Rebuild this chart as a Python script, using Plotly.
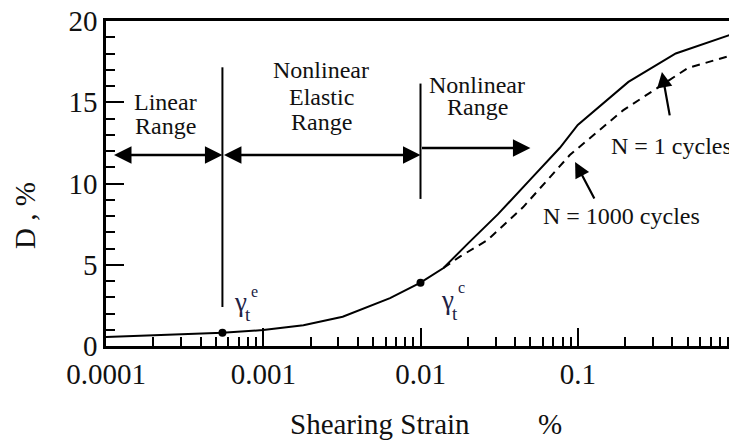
import math
import plotly.graph_objects as go

# ---------------- data ----------------
strain_n1 = [1e-4, 2e-4, 5.5e-4, 1e-3, 1.8e-3, 3.2e-3, 6.4e-3, 0.01, 0.014, 0.02,
             0.031, 0.05, 0.077, 0.1, 0.21, 0.42, 1.0]
damping_n1 = [0.55, 0.65, 0.82, 0.98, 1.28, 1.8, 2.95, 3.9, 4.8, 6.3,
              8.1, 10.25, 12.2, 13.6, 16.25, 18.0, 19.25]

strain_n1000 = [0.014, 0.0178, 0.0265, 0.045, 0.089, 0.194, 0.5, 1.0]
damping_n1000 = [4.8, 5.5, 6.5, 8.55, 11.75, 14.5, 17.1, 17.95]

threshold_strain = [5.5e-4, 0.01]
threshold_damping = [0.82, 3.9]

vline_x = [5.5e-4, 0.01]
vline_y0 = [2.4, 9.05]
vline_y1 = [17.15, 16.15]

range_arrow_x0 = [1.1e-4, 5.5e-4, 0.01]
range_arrow_x1 = [5.5e-4, 0.01, 0.05]
range_arrow_y = [11.75, 11.75, 12.18]
range_arrow_both = [True, True, False]

x_tickvals = [1e-4, 1e-3, 1e-2, 1e-1, 1]
x_ticktext = ["0.0001", "0.001", "0.01", "0.1", "1"]
y_tickvals = [0, 5, 10, 15, 20]

FONT = "Liberation Serif"
INK = "#111111"
GINK = "#222244"

fig = go.Figure()

fig.add_trace(go.Scatter(x=strain_n1, y=damping_n1, mode="lines",
                         line=dict(color="black", width=2), showlegend=False))
fig.add_trace(go.Scatter(x=strain_n1000, y=damping_n1000, mode="lines",
                         line=dict(color="black", width=2, dash="8px,6px"), showlegend=False))
fig.add_trace(go.Scatter(x=threshold_strain, y=threshold_damping, mode="markers",
                         marker=dict(color="black", size=8), showlegend=False))
for xv, y0, y1 in zip(vline_x, vline_y0, vline_y1):
    fig.add_trace(go.Scatter(x=[xv, xv], y=[y0, y1], mode="lines",
                             line=dict(color="black", width=2), showlegend=False))

# range arrows
for x0, x1, yv, both in zip(range_arrow_x0, range_arrow_x1, range_arrow_y, range_arrow_both):
    fig.add_annotation(x=math.log10(x1), y=yv, ax=math.log10(x0), ay=yv,
                       xref="x", yref="y", axref="x", ayref="y", text="",
                       showarrow=True, arrowhead=2, startarrowhead=2, arrowsize=1.4,
                       startarrowsize=1.4, arrowwidth=2.5, arrowcolor="black",
                       arrowside="end+start" if both else "end")

# pointer arrows to curves
pointer_tail = [(0.386, 14.1), (0.129, 8.98)]
pointer_tip = [(0.343, 16.86), (0.0962, 11.32)]
for (tx, ty), (hx, hy) in zip(pointer_tail, pointer_tip):
    fig.add_annotation(x=math.log10(hx), y=hy, ax=math.log10(tx), ay=ty,
                       xref="x", yref="y", axref="x", ayref="y", text="",
                       showarrow=True, arrowhead=2, arrowsize=1.4, arrowwidth=2.2,
                       arrowcolor="black")

# plot area as seen in the browser window (page body adds an 8px offset)
OFF = 8
WL, WT, PW, PH = 106, 21, 629, 325
FIG_W, FIG_H = 737 - OFF, 443
ML, MT = WL - OFF, WT - OFF
MR = FIG_W - ML - PW
MB = FIG_H - MT - PH


def px_text(text, px, py, size, color=INK, angle=0):
    fig.add_annotation(x=(px - WL) / PW, y=(WT + PH - py) / PH, xref="paper", yref="paper",
                       text=text, showarrow=False, xanchor="center", yanchor="middle",
                       textangle=angle, font=dict(family=FONT, size=size, color=color))


labels = [("Linear", 165, 102), ("Range", 165, 126),
          ("Nonlinear", 321, 70), ("Elastic", 321, 97), ("Range", 321, 122),
          ("Nonlinear", 477, 85), ("Range", 477, 107),
          ("N = 1 cycles", 671, 146), ("N = 1000 cycles", 621, 216)]
for t, x, y in labels:
    px_text(t, x, y, 24)

# gamma labels
px_text("γ", 240, 302, 27, GINK)
px_text("t", 248, 314, 19, GINK)
px_text("e", 254, 291, 16, GINK)
px_text("γ", 447, 300, 27, GINK)
px_text("t", 455, 313, 19, GINK)
px_text("c", 461, 287, 16, GINK)

# axis titles
px_text("Shearing Strain", 380, 424, 29)
px_text("%", 550, 424, 29)
px_text("D , %", 25, 216, 29, angle=-90)

fig.update_xaxes(type="log", range=[-4, 0], tickvals=x_tickvals, ticktext=x_ticktext,
                 ticks="inside", ticklen=18, tickwidth=2, tickcolor="black",
                 minor=dict(ticks="inside", ticklen=9, tickwidth=2, tickcolor="black",
                            dtick="D1", showgrid=False),
                 showline=True, linewidth=2.5, linecolor="black", mirror=True,
                 showgrid=False, zeroline=False, ticklabelstandoff=0,
                 ticklabeloverflow="allow", automargin=False,
                 tickfont=dict(family=FONT, size=29, color=INK))
fig.update_yaxes(range=[0, 20], tickvals=y_tickvals,
                 ticks="inside", ticklen=18, tickwidth=2, tickcolor="black",
                 minor=dict(ticks="inside", ticklen=9, tickwidth=2, tickcolor="black",
                            dtick=1, showgrid=False),
                 showline=True, linewidth=2.5, linecolor="black", mirror=True,
                 showgrid=False, zeroline=False, ticklabelstandoff=0,
                 ticklabeloverflow="allow", automargin=False,
                 tickfont=dict(family=FONT, size=29, color=INK))

fig.update_layout(width=FIG_W, height=FIG_H, margin=dict(l=ML, r=MR, t=MT, b=MB),
                  plot_bgcolor="white", paper_bgcolor="white", showlegend=False)

fig.write_html("out.html", config={"displayModeBar": False})
